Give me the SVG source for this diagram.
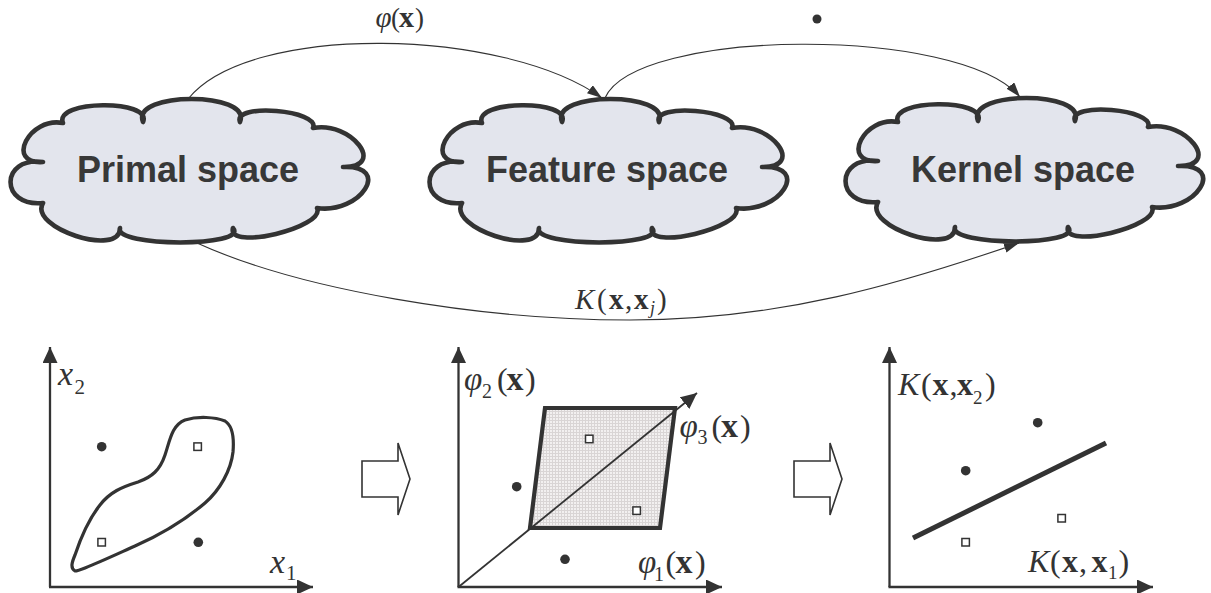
<svg xmlns="http://www.w3.org/2000/svg" width="1211" height="593" viewBox="0 0 1211 593">
  <style>
    .cloud { fill: #e3e5ed; stroke: #333; stroke-width: 4.6; stroke-linejoin: round; }
    .title { font-family: "Liberation Sans", Arial, sans-serif; font-weight: bold; font-size: 36px; fill: #383838; text-anchor: middle; }
    .link { fill: none; stroke: #333; stroke-width: 1.1; }
    .axis { fill: none; stroke: #333; stroke-width: 2.3; }
    .m { font-family: "Liberation Serif", "Times New Roman", serif; fill: #333; }
    .i { font-style: italic; }
    .b { font-weight: bold; }
    .dot { fill: #333; }
    .sq { fill: #fff; stroke: #333; stroke-width: 1.5; }
    .blk { fill: #fff; stroke: #333; stroke-width: 1.6; stroke-linejoin: miter; }
  </style>
  <defs>
    <!-- cloud outline, local box about 360 x 148 -->
    <path id="cloudShape" d="M35,65 C-3.3,67.5 21.3,19.5 55,26 C45,3 145,2 135,25 C123,-5.7 244,-5.7 232,25 C224,5.7 313,13 305,31 C343.3,23.7 379.3,70.7 335,70 C384.4,67.8 353,117.3 309,111 C318,130.5 218.5,154 225,131 C241.7,150.3 104.7,150.3 112,131 C112.3,160.8 20.1,130.8 35,106 C-8.3,110.3 -8.3,59.3 35,65 Z"/>
    <marker id="linkHead" markerUnits="userSpaceOnUse" viewBox="0 0 15 10" refX="15" refY="5" markerWidth="15" markerHeight="10" orient="auto">
      <path d="M0,0 L15,5 L0,10 Z" fill="#333"/>
    </marker>
    <marker id="axisHead" markerUnits="userSpaceOnUse" viewBox="0 0 16 15" refX="16" refY="7.5" markerWidth="16" markerHeight="15" orient="auto">
      <path d="M0,0 L16,7.5 L0,15 Z" fill="#333"/>
    </marker>
    <pattern id="grain" width="3" height="3" patternUnits="userSpaceOnUse">
      <rect width="3" height="3" fill="#f2f0f0"/>
      <rect width="3" height="1" fill="#d9d5d5"/>
      <rect width="1" height="3" fill="#d9d5d5"/>
    </pattern>
  </defs>

  <rect width="1211" height="593" fill="#fff"/>

  <!-- space nodes -->
  <g id="primal-space" transform="translate(8,97)">
    <use href="#cloudShape" class="cloud"/>
    <text class="title" x="180" y="85">Primal space</text>
  </g>
  <g id="feature-space" transform="translate(427,97)">
    <use href="#cloudShape" class="cloud"/>
    <text class="title" x="180" y="85">Feature space</text>
  </g>
  <g id="kernel-space" transform="translate(843,96)">
    <use href="#cloudShape" class="cloud"/>
    <text class="title" x="180" y="86">Kernel space</text>
  </g>

  <!-- mappings between the spaces -->
  <g id="connectors">
    <path class="link" d="M188,99 C250,22 505,28 602,98" marker-end="url(#linkHead)"/>
    <path class="link" d="M605,98 C635,28 960,25 1020,97" marker-end="url(#linkHead)"/>
    <path class="link" d="M197,243 C300,290 480,320 630,320 C780,320 900,284 1019,243" marker-end="url(#linkHead)"/>
  </g>

  <!-- mapping labels -->
  <g id="connector-labels">
    <text class="m" font-size="27" y="27"><tspan class="i" x="375.5" font-size="29">φ</tspan><tspan x="391">(</tspan><tspan class="b" x="399" font-size="30">x</tspan><tspan x="415">)</tspan></text>
    <circle class="dot" cx="817" cy="19" r="4.5"/>
    <text class="m" font-size="29" y="309"><tspan class="i" x="575">K</tspan><tspan x="597">(</tspan><tspan class="b" x="609">x</tspan><tspan x="625">,</tspan><tspan class="b" x="634">x</tspan><tspan class="i" x="650" y="314" font-size="18">j</tspan><tspan x="657" y="309">)</tspan></text>
  </g>

  <!-- primal plot -->
  <g id="plot-primal">
    <path class="axis" d="M50,587 L50,347" marker-end="url(#axisHead)"/>
    <path class="axis" d="M49,587 L313,587" marker-end="url(#axisHead)"/>
    <path fill="none" stroke="#333" stroke-width="3.2" d="M75,571 C70,568 72,562 75,555 C80,540 88,520 100,505 C110,492 122,487 138,482 C152,477 160,470 165,455 C170,440 172,425 185,420 C198,416 215,417 225,421 C233,426 234,440 233,452 C231,470 220,490 205,503 C185,520 160,535 135,546 C115,555 100,562 85,568 C80,570 77,571 75,571 Z"/>
    <circle class="dot" cx="101.7" cy="446.7" r="4.8"/>
    <circle class="dot" cx="198.3" cy="542.3" r="4.8"/>
    <rect class="sq" x="193.9" y="442.9" width="7.5" height="7.5"/>
    <rect class="sq" x="97.9" y="538.5" width="7.5" height="7.5"/>
    <text class="m" font-size="34" y="385"><tspan class="i" x="58">x</tspan><tspan x="74.5" y="394" font-size="21">2</tspan></text>
    <text class="m" font-size="34" y="573"><tspan class="i" x="270">x</tspan><tspan x="286" y="580" font-size="21">1</tspan></text>
  </g>

  <g id="step-1">
    <polygon class="blk" points="362,461 398,461 398,443 410,479 398,515 398,497 362,497"/>
  </g>

  <!-- feature plot -->
  <g id="plot-feature">
    <polygon points="545,408 675,408 660,528 530,528" fill="url(#grain)" stroke="#333" stroke-width="4.2" stroke-linejoin="miter"/>
    <path class="axis" d="M458.5,587 L458.5,347" marker-end="url(#axisHead)"/>
    <path class="axis" d="M457.5,587 L722,587" marker-end="url(#axisHead)"/>
    <path fill="none" stroke="#333" stroke-width="1.8" d="M458.5,587 L697,393" marker-end="url(#axisHead)"/>
    <circle class="dot" cx="516.7" cy="486.7" r="4.8"/>
    <circle class="dot" cx="565" cy="559.3" r="4.8"/>
    <rect class="sq" x="585.5" y="435.2" width="7.5" height="7.5"/>
    <rect class="sq" x="632.9" y="506.9" width="7.5" height="7.5"/>
    <text class="m" font-size="32" y="390"><tspan class="i" x="464" font-size="33">φ</tspan><tspan x="482" y="398" font-size="20">2</tspan><tspan x="497" y="390">(</tspan><tspan class="b" x="506.5" font-size="34">x</tspan><tspan x="525">)</tspan></text>
    <text class="m" font-size="32" y="437"><tspan class="i" x="679.5" font-size="33">φ</tspan><tspan x="697.5" y="444" font-size="20">3</tspan><tspan x="711.5" y="437">(</tspan><tspan class="b" x="721" font-size="34">x</tspan><tspan x="740">)</tspan></text>
    <text class="m" font-size="32" y="573"><tspan class="i" x="638" font-size="33">φ</tspan><tspan x="654" y="581" font-size="20">1</tspan><tspan x="665.5" y="573">(</tspan><tspan class="b" x="675.5" font-size="34">x</tspan><tspan x="695">)</tspan></text>
  </g>

  <g id="step-2">
    <polygon class="blk" points="794,461 830,461 830,443 842,479 830,515 830,497 794,497"/>
  </g>

  <!-- kernel plot -->
  <g id="plot-kernel">
    <path class="axis" d="M889.5,587 L889.5,347" marker-end="url(#axisHead)"/>
    <path class="axis" d="M888.5,587 L1153,587" marker-end="url(#axisHead)"/>
    <path fill="none" stroke="#333" stroke-width="5" d="M913,538 L1106,443"/>
    <circle class="dot" cx="1037.7" cy="422.7" r="4.8"/>
    <circle class="dot" cx="965.7" cy="470.7" r="4.8"/>
    <rect class="sq" x="1057.9" y="514.5" width="7.5" height="7.5"/>
    <rect class="sq" x="961.9" y="538.5" width="7.5" height="7.5"/>
    <text class="m" font-size="32" y="395"><tspan class="i" x="898">K</tspan><tspan x="921">(</tspan><tspan class="b" x="932.5">x</tspan><tspan x="949.5">,</tspan><tspan class="b" x="957">x</tspan><tspan x="973" y="404" font-size="19">2</tspan><tspan x="985" y="395">)</tspan></text>
    <text class="m" font-size="32" y="572"><tspan class="i" x="1028">K</tspan><tspan x="1050">(</tspan><tspan class="b" x="1062">x</tspan><tspan x="1079">,</tspan><tspan class="b" x="1091.5">x</tspan><tspan x="1108" y="579" font-size="19">1</tspan><tspan x="1118.5" y="572">)</tspan></text>
  </g>
</svg>
